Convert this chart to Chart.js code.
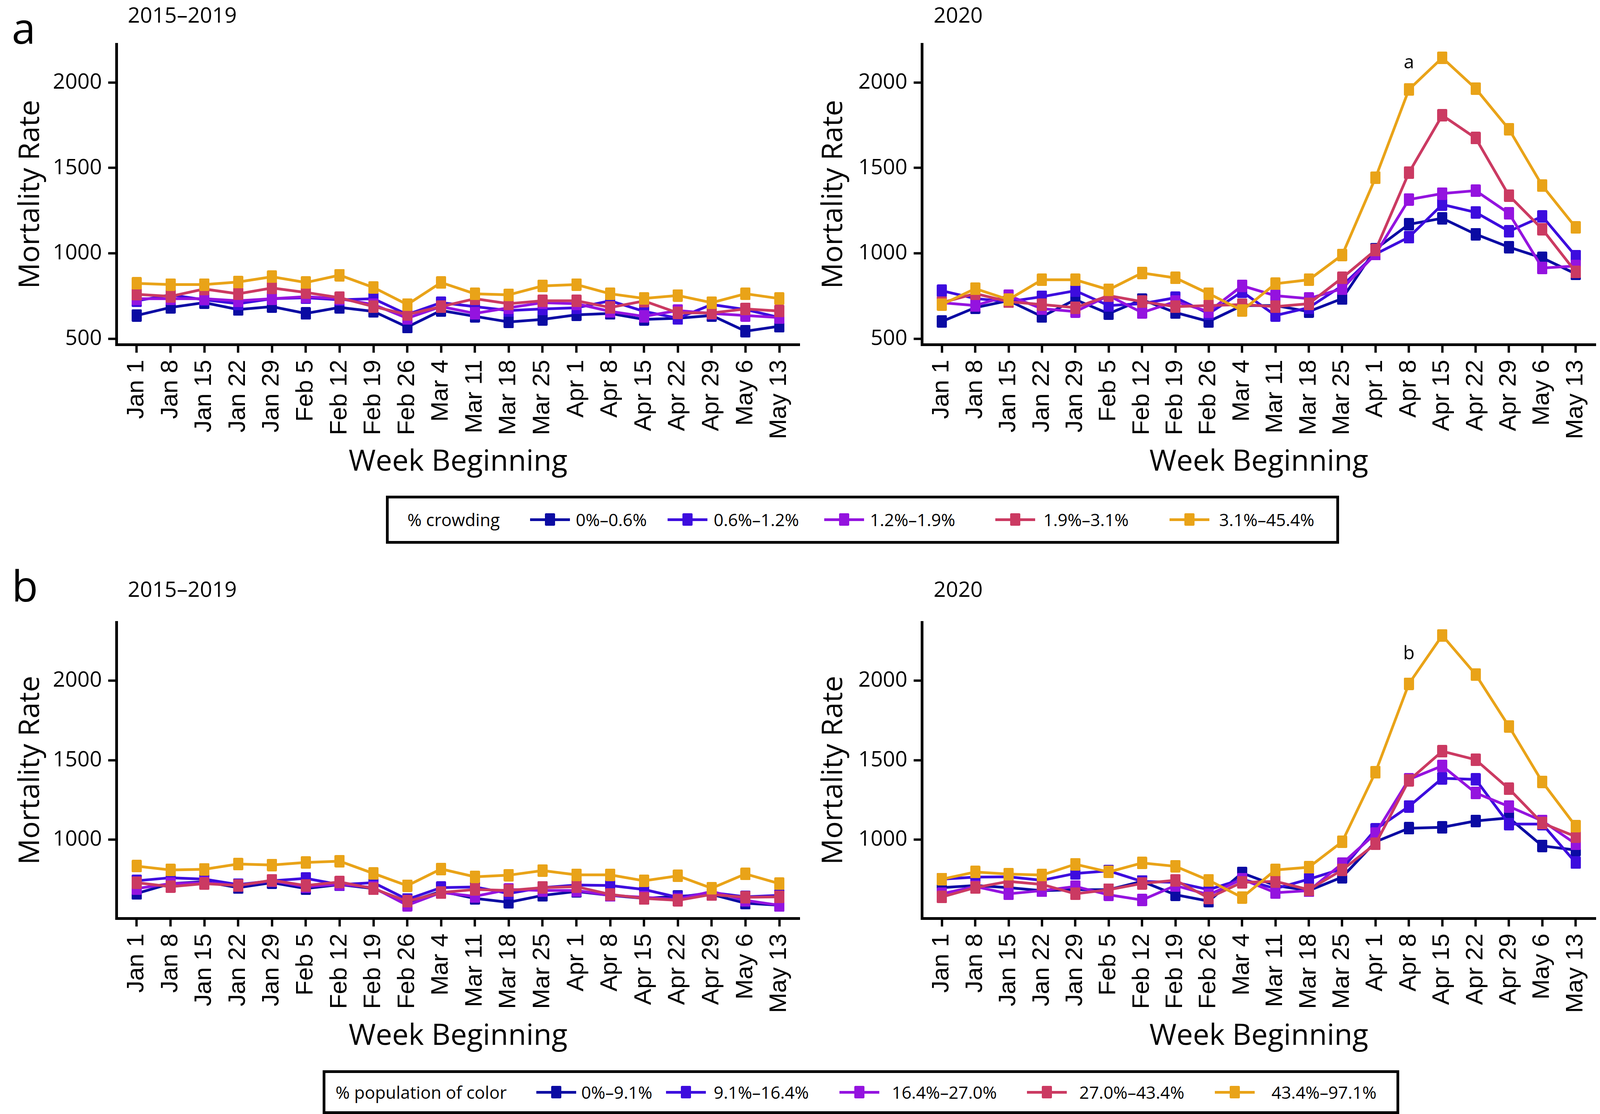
<!DOCTYPE html>
<html>
<head>
<meta charset="utf-8">
<script src="https://cdn.jsdelivr.net/npm/chart.js@4.4.1/dist/chart.umd.min.js"></script>
<style>
  html, body { margin: 0; padding: 0; background: #fff; }
  #fig { position: relative; width: 4108px; height: 2852px; overflow: hidden;
         font-family: "Open Sans", sans-serif; color: #000; }
  canvas { position: absolute; }
  .txt { position: absolute; white-space: nowrap; line-height: 1; }
  .letter { font-size: 110px; }
  .ptitle { font-size: 55px; }
  .legend { position: absolute; border: 7px solid #000; box-sizing: border-box; }
  .legtxt { position: absolute; white-space: nowrap; line-height: 1; font-size: 44px; transform: translateY(-50%); }
  .keyline { position: absolute; width: 102px; height: 7px; }
  .keybox { position: absolute; width: 26px; height: 32px; border-radius: 3px; }
</style>
</head>
<body>
<div id="fig">
  <div class="txt letter" style="left:30px; top:14px;">a</div>
  <div class="txt letter" style="left:30px; top:1442px;">b</div>
  <div class="txt ptitle" style="left:327px; top:9px;">2015–2019</div>
  <div class="txt ptitle" style="left:2390px; top:9px;">2020</div>
  <div class="txt ptitle" style="left:327px; top:1479px;">2015–2019</div>
  <div class="txt ptitle" style="left:2390px; top:1479px;">2020</div>

  <canvas id="aPastChart" width="2100" height="1150" style="left:0; top:90px; width:2100px; height:1150px;"></canvas>
  <canvas id="aNowChart" width="2052" height="1150" style="left:2056px; top:90px; width:2052px; height:1150px;"></canvas>
  <canvas id="bPastChart" width="2100" height="1150" style="left:0; top:1570px; width:2100px; height:1150px;"></canvas>
  <canvas id="bNowChart" width="2052" height="1150" style="left:2056px; top:1570px; width:2052px; height:1150px;"></canvas>
</div>

<script>
const weeks = ["Jan 1", "Jan 8", "Jan 15", "Jan 22", "Jan 29", "Feb 5", "Feb 12", "Feb 19",
  "Feb 26", "Mar 4", "Mar 11", "Mar 18", "Mar 25", "Apr 1", "Apr 8", "Apr 15", "Apr 22",
  "Apr 29", "May 6", "May 13"];

const crowdGroups = ["0%–0.6%", "0.6%–1.2%", "1.2%–1.9%", "1.9%–3.1%", "3.1%–45.4%"];
const colorGroups = ["0%–9.1%", "9.1%–16.4%", "16.4%–27.0%", "27.0%–43.4%", "43.4%–97.1%"];
const groupColors = ["#0B0BA3", "#3D0CDE", "#9413DF", "#CB3A62", "#E9A318"];
const yTickValues = [500, 1000, 1500, 2000];

// a: % crowding, 2015-2019 average
const aPast1 = [636, 683, 711, 671, 688, 648, 683, 660, 568, 665, 631, 598, 613, 640, 648, 613, 620, 636, 544, 573];
const aPast2 = [722, 757, 728, 705, 734, 740, 728, 734, 642, 711, 688, 665, 674, 681, 722, 660, 620, 700, 671, 624];
const aPast3 = [734, 734, 734, 722, 734, 746, 734, 700, 620, 688, 648, 681, 711, 705, 660, 631, 665, 648, 636, 624];
const aPast4 = [760, 748, 791, 763, 797, 771, 740, 688, 642, 688, 734, 705, 722, 722, 683, 721, 651, 651, 674, 662];
const aPast5 = [824, 817, 817, 832, 863, 829, 872, 800, 700, 829, 763, 757, 809, 817, 763, 736, 753, 711, 763, 735];

// a: % crowding, 2020
const aNow1 = [601, 682, 723, 630, 729, 647, 729, 653, 601, 694, 694, 659, 735, 1025, 1170, 1205, 1112, 1036, 973, 880];
const aNow2 = [781, 735, 717, 746, 781, 694, 705, 740, 647, 775, 636, 682, 810, 996, 1094, 1286, 1240, 1129, 1216, 984];
const aNow3 = [711, 694, 752, 676, 659, 752, 653, 717, 659, 810, 752, 735, 793, 996, 1315, 1350, 1367, 1234, 914, 926];
const aNow4 = [711, 764, 717, 700, 682, 752, 717, 688, 694, 700, 688, 705, 856, 1019, 1472, 1808, 1675, 1338, 1141, 891];
const aNow5 = [700, 793, 729, 845, 845, 787, 885, 856, 764, 665, 822, 845, 990, 1443, 1959, 2145, 1965, 1727, 1396, 1152];

// b: % population of color, 2015-2019 average
const bPast1 = [662, 724, 736, 699, 730, 693, 718, 693, 607, 675, 631, 607, 650, 675, 650, 631, 644, 656, 601, 588];
const bPast2 = [742, 761, 752, 718, 742, 757, 718, 730, 625, 699, 703, 662, 699, 715, 712, 687, 638, 668, 641, 650];
const bPast3 = [693, 724, 730, 712, 742, 705, 720, 699, 588, 668, 644, 687, 681, 681, 650, 638, 625, 675, 619, 588];
const bPast4 = [730, 705, 724, 712, 745, 712, 734, 693, 613, 668, 687, 681, 699, 705, 656, 631, 619, 656, 638, 641];
const bPast5 = [834, 810, 814, 847, 841, 857, 865, 788, 711, 816, 767, 777, 806, 779, 779, 742, 773, 695, 785, 724];

// b: % population of color, 2020
const bNow1 = [699, 712, 699, 680, 686, 686, 738, 654, 614, 791, 712, 680, 765, 987, 1072, 1078, 1118, 1137, 961, 935];
const bNow2 = [752, 765, 767, 745, 788, 804, 738, 732, 686, 752, 693, 752, 817, 1065, 1209, 1386, 1379, 1098, 1098, 856];
const bNow3 = [660, 706, 660, 680, 706, 654, 621, 712, 654, 752, 667, 680, 850, 1039, 1379, 1464, 1294, 1209, 1118, 974];
const bNow4 = [640, 699, 738, 719, 660, 686, 725, 745, 634, 732, 738, 686, 810, 974, 1373, 1556, 1503, 1320, 1104, 1020];
const bNow5 = [752, 797, 784, 778, 846, 797, 854, 833, 745, 637, 810, 827, 987, 1425, 1980, 2284, 2039, 1712, 1363, 1085];

// y limits of the two rows (shared by both panels of a row)
const aRange = [466, 2225];
const bRange = [506, 2367];

// significance letters placed in the 2020 panels
const aNote = { text: "a", x: 14, y: 2083 };
const bNote = { text: "b", x: 14, y: 2134 };

// rectangular marker, a bit taller than wide like the original
function makeMarker(color) {
  const c = document.createElement("canvas");
  c.width = 26;
  c.height = 32;
  const g = c.getContext("2d");
  g.fillStyle = color;
  g.beginPath();
  g.roundRect(0, 0, 26, 32, 3);
  g.fill();
  return c;
}
const markers = groupColors.map(makeMarker);

const notePlugin = {
  id: "note",
  afterDatasetsDraw(chart, args, opts) {
    if (!opts || !opts.text) return;
    const { ctx, scales } = chart;
    ctx.save();
    ctx.font = '48px "Open Sans"';
    ctx.fillStyle = "#000";
    ctx.textAlign = "center";
    ctx.textBaseline = "alphabetic";
    ctx.fillText(opts.text, scales.x.getPixelForValue(opts.x), scales.y.getPixelForValue(opts.y));
    ctx.restore();
  },
};

function makePanel(id, series, groups, range, cfg) {
  const ctx = document.getElementById(id).getContext("2d");
  const axisTick = {
    drawOnChartArea: false,
    drawTicks: true,
    tickLength: 21,
    tickWidth: 6,
    tickColor: "#000",
  };
  return new Chart(ctx, {
    type: "line",
    data: {
      datasets: series.map((vals, i) => ({
        label: groups[i],
        data: vals.map((v, j) => ({ x: j, y: v })),
        borderColor: groupColors[i],
        backgroundColor: groupColors[i],
        borderWidth: 7,
        pointStyle: markers[i],
        pointRadius: 16,
        tension: 0,
        order: series.length - i,
      })),
    },
    options: {
      responsive: false,
      animation: false,
      devicePixelRatio: 1,
      layout: { padding: { top: cfg.padTop, right: cfg.padRight, bottom: 0, left: 0 } },
      plugins: {
        legend: { display: false },
        tooltip: { enabled: false },
        note: cfg.note || {},
      },
      scales: {
        x: {
          type: "linear",
          min: -0.6,
          max: weeks.length - 0.4,
          afterBuildTicks: (s) => { s.ticks = weeks.map((_, i) => ({ value: i })); },
          afterFit: (s) => { s.height = cfg.xHeight; s.paddingLeft = 0; s.paddingRight = 0; },
          ticks: {
            callback: (v) => weeks[v],
            autoSkip: false,
            maxRotation: 90,
            minRotation: 90,
            padding: 18,
            color: "#000",
            font: { family: "Liberation Sans", size: 62 },
          },
          grid: axisTick,
          border: { display: true, color: "#000", width: 7 },
          title: {
            display: true,
            text: "Week Beginning",
            color: "#000",
            font: { family: "Open Sans", size: 75 },
            padding: { top: 0, bottom: cfg.xTitlePad },
          },
        },
        y: {
          min: range[0],
          max: range[1],
          afterBuildTicks: (s) => {
            s.ticks = yTickValues.filter((v) => v >= range[0] && v <= range[1]).map((v) => ({ value: v }));
          },
          afterFit: (s) => { s.width = cfg.yWidth; s.paddingTop = 0; s.paddingBottom = 0; },
          ticks: {
            callback: (v) => String(v),
            padding: 16,
            color: "#000",
            font: { family: "Open Sans", size: 55 },
          },
          grid: axisTick,
          border: { display: true, color: "#000", width: 7 },
          title: {
            display: true,
            text: "Mortality Rate",
            color: "#000",
            font: { family: "Open Sans", size: 74 },
            padding: { top: 35, bottom: 0 },
          },
        },
      },
    },
    plugins: [notePlugin],
  });
}

function addLegend(title, groups, box, keyX, textX, titleX, cy) {
  const fig = document.getElementById("fig");
  const lg = document.createElement("div");
  lg.className = "legend";
  lg.style.left = box[0] + "px";
  lg.style.top = box[1] + "px";
  lg.style.width = box[2] + "px";
  lg.style.height = box[3] + "px";
  fig.appendChild(lg);

  const t = document.createElement("div");
  t.className = "legtxt";
  t.textContent = title;
  t.style.left = titleX + "px";
  t.style.top = cy + "px";
  fig.appendChild(t);

  groups.forEach((g, i) => {
    const line = document.createElement("div");
    line.className = "keyline";
    line.style.background = groupColors[i];
    line.style.left = keyX[i] - 51 + "px";
    line.style.top = cy - 3.5 + "px";
    fig.appendChild(line);

    const sq = document.createElement("div");
    sq.className = "keybox";
    sq.style.background = groupColors[i];
    sq.style.left = keyX[i] - 13 + "px";
    sq.style.top = cy - 16 + "px";
    fig.appendChild(sq);

    const lbl = document.createElement("div");
    lbl.className = "legtxt";
    lbl.textContent = g;
    lbl.style.left = textX[i] + "px";
    lbl.style.top = cy + "px";
    fig.appendChild(lbl);
  });
}

const leftCfg = { padTop: 15, padRight: 53, yWidth: 298, xHeight: 358, xTitlePad: 11 };
const rightCfg = { padTop: 15, padRight: 1, yWidth: 304, xHeight: 358, xTitlePad: 11 };

makePanel("aPastChart", [aPast1, aPast2, aPast3, aPast4, aPast5], crowdGroups, aRange, leftCfg);
makePanel("aNowChart", [aNow1, aNow2, aNow3, aNow4, aNow5], crowdGroups, aRange, { ...rightCfg, note: aNote });
makePanel("bPastChart", [bPast1, bPast2, bPast3, bPast4, bPast5], colorGroups, bRange,
  { padTop: 10, padRight: 53, yWidth: 298, xHeight: 369, xTitlePad: 21 });
makePanel("bNowChart", [bNow1, bNow2, bNow3, bNow4, bNow5], colorGroups, bRange,
  { padTop: 10, padRight: 1, yWidth: 304, xHeight: 369, xTitlePad: 21, note: bNote });

addLegend("% crowding", crowdGroups, [988, 1269, 2440, 123],
  [1408, 1760, 2161, 2599, 3045], [1474, 1827, 2227, 2671, 3121], 1043, 1330);
addLegend("% population of color", colorGroups, [826, 2740, 2756, 112],
  [1424, 1756, 2200, 2680, 3161], [1488, 1827, 2283, 2763, 3255], 859, 2796);
</script>
</body>
</html>
